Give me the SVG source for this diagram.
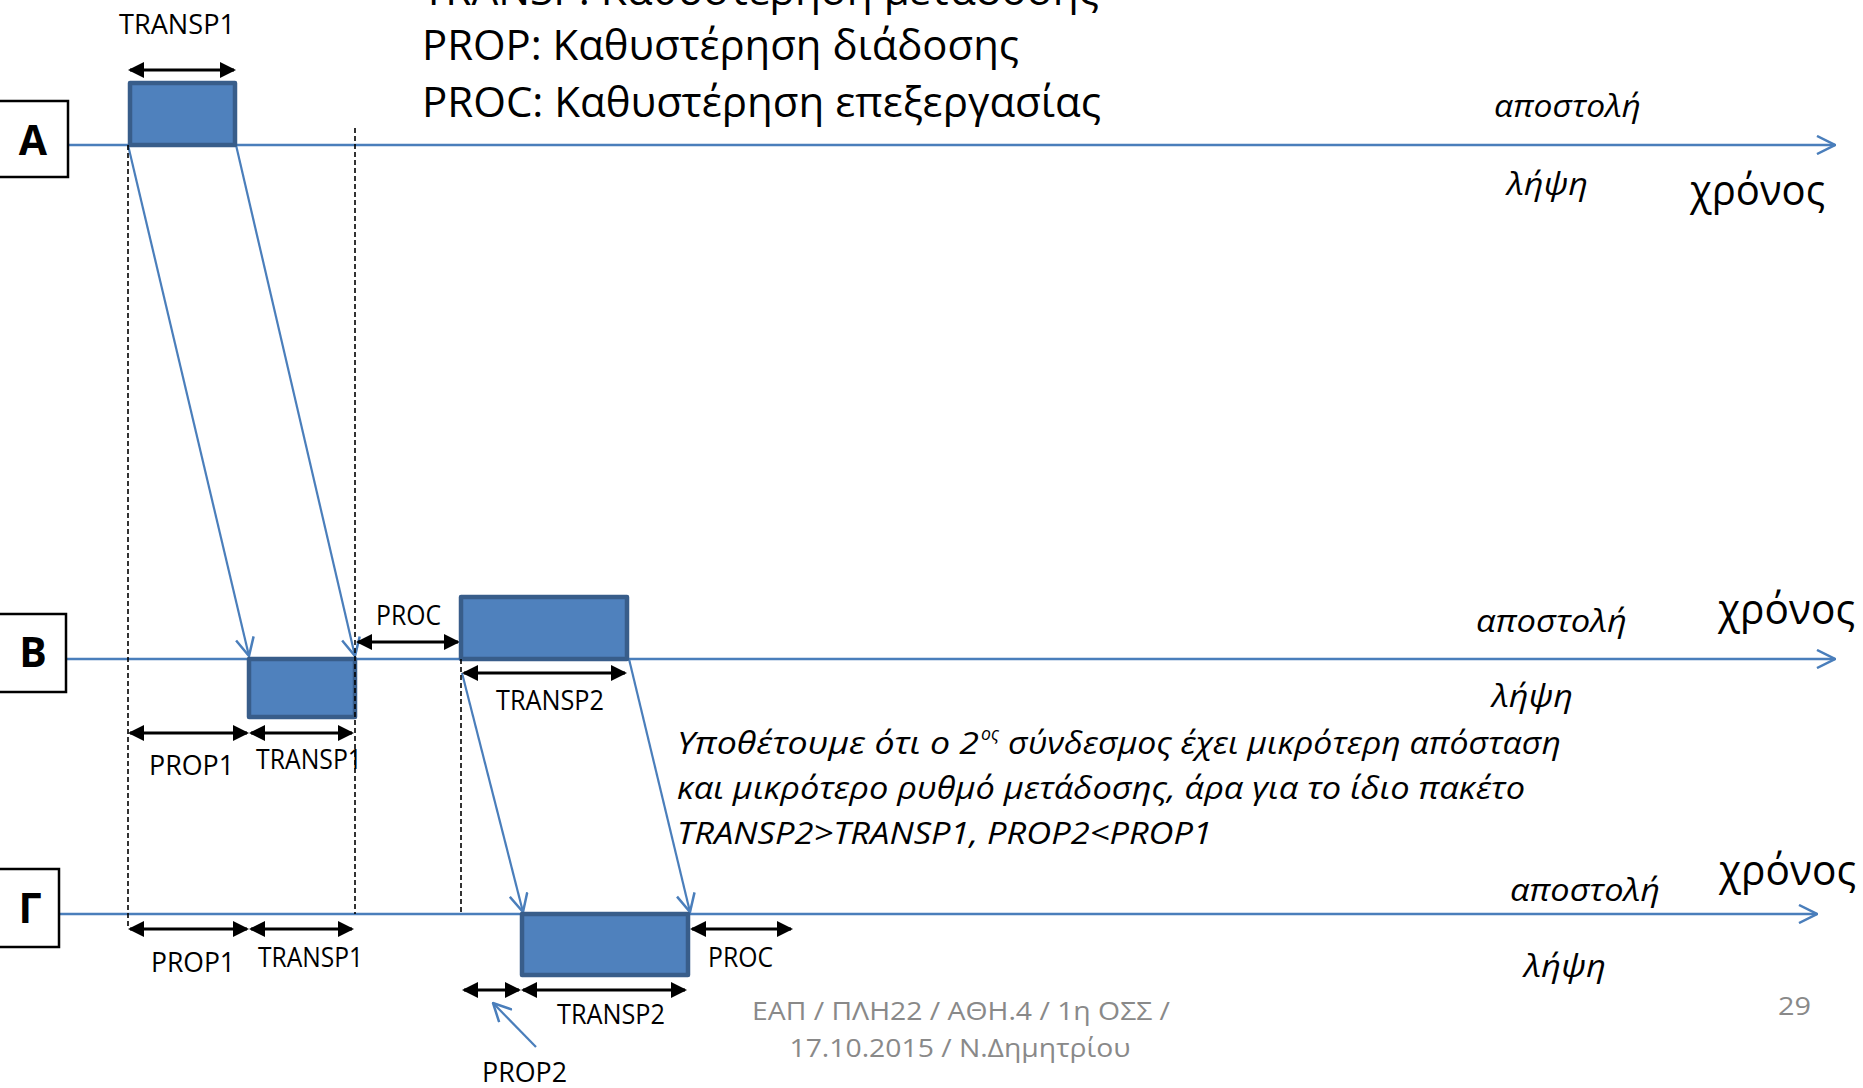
<svg xmlns="http://www.w3.org/2000/svg" width="1863" height="1088" viewBox="0 0 1863 1088">
<style>
.bg{fill:#ffffff}
.tl{stroke:#4A7EBB;stroke-width:2.5;fill:none}
.dg{stroke:#4A7EBB;stroke-width:2.2;fill:none}
.pk{fill:#4F81BD;stroke:#385D8A;stroke-width:4.5;stroke-linejoin:round}
.lb{fill:#ffffff;stroke:#000000;stroke-width:2.5}
.dim{stroke:#000000;stroke-width:3;fill:none}
.ds{stroke:#000000;stroke-width:1.6;stroke-dasharray:5,3;fill:none}
text{font-family:"Open Sans","Noto Sans","DejaVu Sans",sans-serif;fill:#000000}
.big{font-size:42px}
.sm{font-size:27px}
.it{font-size:31px;font-style:italic}
.node{font-size:41px;font-weight:bold}
.ft{font-size:25px;fill:#898989}
</style>
<defs>
<marker id="ah" viewBox="0 0 16 16" refX="14" refY="8" markerWidth="16" markerHeight="16" markerUnits="userSpaceOnUse" orient="auto-start-reverse"><path d="M0,0 L16,8 L0,16 z" fill="#000000"/></marker>
<marker id="oa" viewBox="0 0 20 20" refX="19" refY="10" markerWidth="20" markerHeight="20" markerUnits="userSpaceOnUse" orient="auto"><path d="M1,1 L19,10 L1,19" fill="none" stroke="#4A7EBB" stroke-width="2.5"/></marker>
</defs>
<rect class="bg" x="0" y="0" width="1863" height="1088"/>

<g id="legend">
<text class="big" x="422" y="5" textLength="677" lengthAdjust="spacingAndGlyphs">TRANSP: Καθυστέρηση μετάδοσης</text>
<text class="big" x="422" y="60" textLength="597" lengthAdjust="spacingAndGlyphs">PROP: Καθυστέρηση διάδοσης</text>
<text class="big" x="422" y="117" textLength="679" lengthAdjust="spacingAndGlyphs">PROC: Καθυστέρηση επεξεργασίας</text>
</g>

<g id="connectors">
<line class="tl" x1="68" y1="145" x2="1835" y2="145" marker-end="url(#oa)"/>
<line class="tl" x1="60" y1="659" x2="1835" y2="659" marker-end="url(#oa)"/>
<line class="tl" x1="53" y1="914" x2="1817" y2="914" marker-end="url(#oa)"/>
<line class="dg" x1="128" y1="145" x2="249" y2="656" marker-end="url(#oa)"/>
<line class="dg" x1="236" y1="145" x2="355" y2="656" marker-end="url(#oa)"/>
<line class="dg" x1="462" y1="673" x2="523" y2="912" marker-end="url(#oa)"/>
<line class="dg" x1="629" y1="659" x2="690" y2="912" marker-end="url(#oa)"/>
<line class="dg" x1="536" y1="1047" x2="493" y2="1003" marker-end="url(#oa)"/>
<line class="dim" x1="130" y1="70" x2="234" y2="70" marker-start="url(#ah)" marker-end="url(#ah)"/>
<line class="dim" x1="358" y1="642" x2="458" y2="642" marker-start="url(#ah)" marker-end="url(#ah)"/>
<line class="dim" x1="464" y1="673" x2="625" y2="673" marker-start="url(#ah)" marker-end="url(#ah)"/>
<line class="dim" x1="130" y1="733" x2="247" y2="733" marker-start="url(#ah)" marker-end="url(#ah)"/>
<line class="dim" x1="251" y1="733" x2="352" y2="733" marker-start="url(#ah)" marker-end="url(#ah)"/>
<line class="dim" x1="130" y1="929" x2="247" y2="929" marker-start="url(#ah)" marker-end="url(#ah)"/>
<line class="dim" x1="251" y1="929" x2="352" y2="929" marker-start="url(#ah)" marker-end="url(#ah)"/>
<line class="dim" x1="692" y1="929" x2="791" y2="929" marker-start="url(#ah)" marker-end="url(#ah)"/>
<line class="dim" x1="464" y1="990" x2="519" y2="990" marker-start="url(#ah)" marker-end="url(#ah)"/>
<line class="dim" x1="523" y1="990" x2="685" y2="990" marker-start="url(#ah)" marker-end="url(#ah)"/>
</g>

<g id="node-A">
<rect class="lb" x="-2" y="101" width="70" height="76"/>
<text class="node" x="33" y="155" text-anchor="middle">A</text>
</g>
<g id="node-B">
<rect class="lb" x="-2" y="614" width="68" height="78"/>
<text class="node" x="33" y="667" text-anchor="middle">B</text>
</g>
<g id="node-G">
<rect class="lb" x="-2" y="869" width="61" height="78"/>
<text class="node" x="30" y="923" text-anchor="middle">Γ</text>
</g>

<g id="packet-A-send">
<rect class="pk" x="130" y="83" width="105" height="62"/>
</g>
<g id="packet-B-recv">
<rect class="pk" x="249" y="659" width="106" height="58"/>
</g>
<g id="packet-B-send">
<rect class="pk" x="461" y="597" width="166" height="62"/>
</g>
<g id="packet-G-recv">
<rect class="pk" x="522" y="914" width="166" height="61"/>
</g>

<g id="guides">
<line class="ds" x1="128" y1="145" x2="128" y2="929"/>
<line class="ds" x1="355" y1="128" x2="355" y2="914"/>
<line class="ds" x1="461" y1="659" x2="461" y2="914"/>
</g>

<g id="labels">
<text class="sm" x="119" y="34" textLength="116" lengthAdjust="spacingAndGlyphs">TRANSP1</text>
<text class="sm" x="376" y="625" textLength="65" lengthAdjust="spacingAndGlyphs">PROC</text>
<text class="sm" x="496" y="710" textLength="108" lengthAdjust="spacingAndGlyphs">TRANSP2</text>
<text class="sm" x="149" y="775" textLength="85" lengthAdjust="spacingAndGlyphs">PROP1</text>
<text class="sm" x="256" y="769" textLength="106" lengthAdjust="spacingAndGlyphs">TRANSP1</text>
<text class="sm" x="151" y="972" textLength="84" lengthAdjust="spacingAndGlyphs">PROP1</text>
<text class="sm" x="258" y="967" textLength="105" lengthAdjust="spacingAndGlyphs">TRANSP1</text>
<text class="sm" x="708" y="967" textLength="65" lengthAdjust="spacingAndGlyphs">PROC</text>
<text class="sm" x="557" y="1024" textLength="108" lengthAdjust="spacingAndGlyphs">TRANSP2</text>
<text class="sm" x="482" y="1082" textLength="85" lengthAdjust="spacingAndGlyphs">PROP2</text>
</g>

<g id="axis-labels">
<text class="it" x="1494" y="117" textLength="147" lengthAdjust="spacingAndGlyphs">αποστολή</text>
<text class="it" x="1507" y="195" textLength="81" lengthAdjust="spacingAndGlyphs">λήψη</text>
<text class="big" x="1690" y="205" textLength="135" lengthAdjust="spacingAndGlyphs">χρόνος</text>
<text class="it" x="1476" y="632" textLength="151" lengthAdjust="spacingAndGlyphs">αποστολή</text>
<text class="it" x="1492" y="707" textLength="81" lengthAdjust="spacingAndGlyphs">λήψη</text>
<text class="big" x="1718" y="624" textLength="137" lengthAdjust="spacingAndGlyphs">χρόνος</text>
<text class="it" x="1510" y="901" textLength="150" lengthAdjust="spacingAndGlyphs">αποστολή</text>
<text class="it" x="1524" y="977" textLength="82" lengthAdjust="spacingAndGlyphs">λήψη</text>
<text class="big" x="1719" y="885" textLength="137" lengthAdjust="spacingAndGlyphs">χρόνος</text>
</g>

<g id="note">
<text class="it" x="677" y="754" textLength="302" lengthAdjust="spacingAndGlyphs">Υποθέτουμε ότι ο 2</text>
<text class="it" x="981" y="740" style="font-size:19px" textLength="18" lengthAdjust="spacingAndGlyphs">ος</text>
<text class="it" x="1008" y="754" textLength="553" lengthAdjust="spacingAndGlyphs">σύνδεσμος έχει μικρότερη απόσταση</text>
<text class="it" x="677" y="799" textLength="848" lengthAdjust="spacingAndGlyphs">και μικρότερο ρυθμό μετάδοσης, άρα για το ίδιο πακέτο</text>
<text class="it" x="677" y="844" textLength="535" lengthAdjust="spacingAndGlyphs">TRANSP2&gt;TRANSP1, PROP2&lt;PROP1</text>
</g>

<g id="footer">
<text class="ft" x="961" y="1020" text-anchor="middle" textLength="418" lengthAdjust="spacingAndGlyphs">ΕΑΠ / ΠΛΗ22 / ΑΘΗ.4 / 1η ΟΣΣ /</text>
<text class="ft" x="960" y="1057" text-anchor="middle" textLength="341" lengthAdjust="spacingAndGlyphs">17.10.2015 / Ν.Δημητρίου</text>
<text class="ft" x="1778" y="1015" textLength="33" lengthAdjust="spacingAndGlyphs">29</text>
</g>
</svg>
